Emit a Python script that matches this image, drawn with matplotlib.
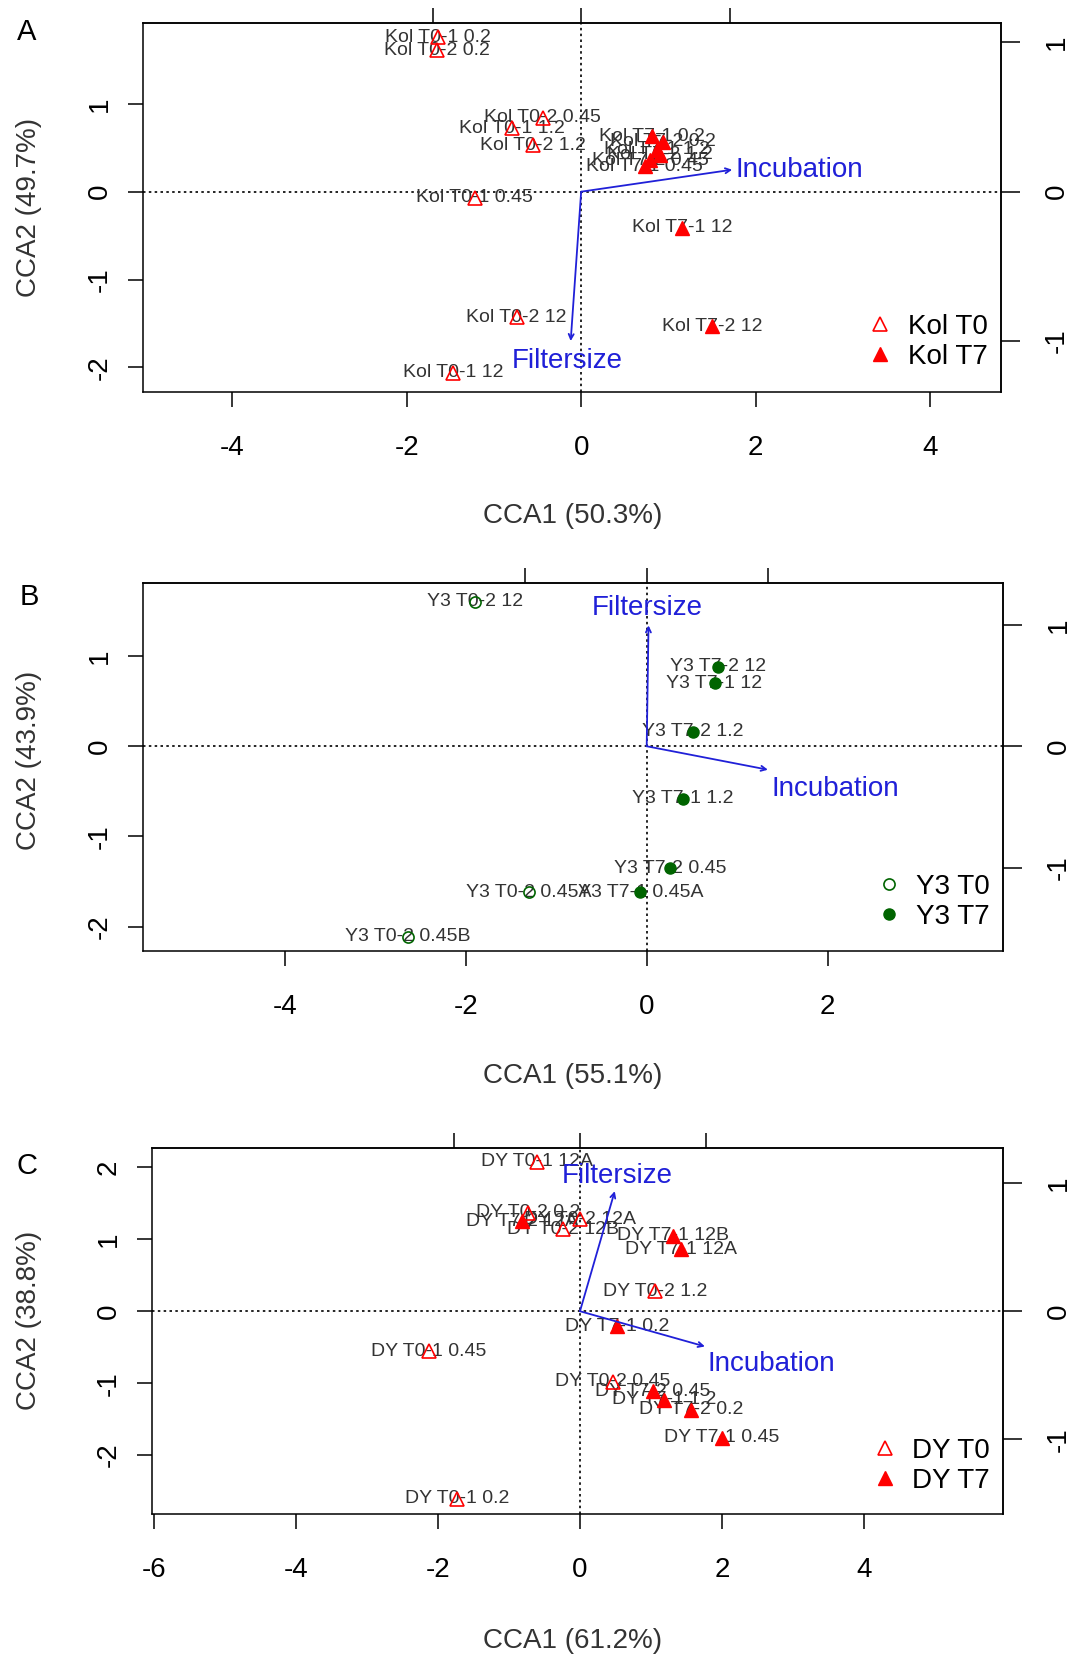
import matplotlib
matplotlib.use('Agg')
import matplotlib.pyplot as plt
from matplotlib.lines import Line2D

plt.rcParams['font.family'] = ['Liberation Sans', 'DejaVu Sans']

# ---- Panel A : Kol ----
kol_t0_labels = ['Kol T0-1 0.2', 'Kol T0-2 0.2', 'Kol T0-2 0.45', 'Kol T0-1 1.2',
                 'Kol T0-2 1.2', 'Kol T0-1 0.45', 'Kol T0-2 12', 'Kol T0-1 12']
kol_t0_x = [-1.64, -1.65, -0.44, -0.79, -0.55, -1.22, -0.74, -1.47]
kol_t0_y = [1.76, 1.61, 0.84, 0.72, 0.53, -0.07, -1.43, -2.06]
kol_t7_labels = ['Kol T7-1 0.2', 'Kol T7-2 0.2', 'Kol T7-1 1.2', 'Kol T7-2 1.2',
                 'Kol T7-2 0.45', 'Kol T7-1 0.45', 'Kol T7-1 12', 'Kol T7-2 12']
kol_t7_x = [0.81, 0.94, 0.87, 0.90, 0.79, 0.73, 1.16, 1.50]
kol_t7_y = [0.63, 0.57, 0.48, 0.42, 0.36, 0.29, -0.41, -1.53]
kol_env = ['Incubation', 'Filtersize']
kol_env_x = [1.73, -0.12]
kol_env_y = [0.25, -1.70]
kol_env_lab_x = [2.50, -0.16]
kol_env_lab_y = [0.25, -1.93]

# ---- Panel B : Y3 ----
y3_t0_labels = ['Y3 T0-2 12', 'Y3 T0-2 0.45A', 'Y3 T0-2 0.45B']
y3_t0_x = [-1.90, -1.30, -2.64]
y3_t0_y = [1.60, -1.62, -2.11]
y3_t7_labels = ['Y3 T7-2 12', 'Y3 T7-1 12', 'Y3 T7-2 1.2', 'Y3 T7-1 1.2',
                'Y3 T7-2 0.45', 'Y3 T7-1 0.45A']
y3_t7_x = [0.79, 0.75, 0.51, 0.40, 0.26, -0.07]
y3_t7_y = [0.88, 0.70, 0.16, -0.58, -1.35, -1.62]
y3_env = ['Filtersize', 'Incubation']
y3_env_x = [0.02, 1.34]
y3_env_y = [1.34, -0.26]
y3_env_lab_x = [0.01, 2.09]
y3_env_lab_y = [1.53, -0.47]

# ---- Panel C : DY ----
dy_t0_labels = ['DY T0-1 12A', 'DY T0-2 0.2', 'DY T0-2 12A', 'DY T0-2 12B',
                'DY T0-2 1.2', 'DY T0-1 0.45', 'DY T0-2 0.45', 'DY T0-1 0.2']
dy_t0_x = [-0.61, -0.73, 0.00, -0.24, 1.06, -2.13, 0.46, -1.73]
dy_t0_y = [2.08, 1.37, 1.28, 1.14, 0.28, -0.56, -0.98, -2.61]
dy_t7_labels = ['DY T7-2 12A', 'DY T7-1 12B', 'DY T7-1 12A', 'DY T7-1 0.2',
                'DY T7-2 0.45', 'DY T7-1 1.2', 'DY T7-2 0.2', 'DY T7-1 0.45']
dy_t7_x = [-0.82, 1.31, 1.43, 0.52, 1.03, 1.19, 1.57, 2.00]
dy_t7_y = [1.25, 1.05, 0.86, -0.21, -1.11, -1.23, -1.37, -1.76]
dy_env = ['Filtersize', 'Incubation']
dy_env_x = [0.49, 1.76]
dy_env_y = [1.67, -0.49]
dy_env_lab_x = [0.52, 2.69]
dy_env_lab_y = [1.88, -0.74]

W, H = 1071, 1663
fig = plt.figure(figsize=(W / 100, H / 100), dpi=100)


def rect(l, t, r, b):
    return [l / W, 1 - b / H, (r - l) / W, (b - t) / H]


def ftext(x, y, s, **kw):
    fig.text(x / W, 1 - y / H, s, ha='center', va='center', **kw)


BLUE = '#2020d8'
TXT = '#333333'


def panel(box, xlim, ylim, xticks, yticks, mul, t0, t7, env, color,
          open_marker, filled_marker, ms, leg_names, leg_anchor):
    ax = fig.add_axes(rect(*box))
    ax.set_xlim(xlim)
    ax.set_ylim(ylim)
    ax.axhline(0, color='black', ls=(0, (1.5, 2)), lw=1.2, zorder=1)
    ax.axvline(0, color='black', ls=(0, (1.5, 2)), lw=1.2, zorder=1)

    # sample labels, then symbols on top
    for labs, xs, ys in (t0, t7):
        for s, x, y in zip(labs, xs, ys):
            ax.text(x, y, s, fontsize=14, color=TXT, ha='center', va='center', zorder=2)
    ax.plot(t0[1], t0[2], ls='none', marker=open_marker, ms=ms, mfc='none',
            mec=color, mew=1.2, zorder=3)
    ax.plot(t7[1], t7[2], ls='none', marker=filled_marker, ms=ms, mfc=color,
            mec=color, zorder=3)

    # biplot arrows
    names, hx, hy, lx, ly = env
    for n, x, y, tx, ty in zip(names, hx, hy, lx, ly):
        ax.annotate('', xy=(x, y), xytext=(0, 0),
                    arrowprops=dict(arrowstyle='->', color=BLUE, lw=1.3,
                                    mutation_scale=9, shrinkA=0, shrinkB=0),
                    zorder=4)
        ax.text(tx, ty, n, fontsize=20, color=BLUE, ha='center', va='center', zorder=4)

    ax.set_xticks(xticks)
    ax.set_yticks(yticks)
    ax.set_xticklabels([str(v) for v in xticks])
    ax.set_yticklabels([str(v) for v in yticks], rotation=90, va='center')
    ax.tick_params(axis='x', length=11, width=1.1, pad=20, labelsize=20)
    ax.tick_params(axis='y', length=11, width=1.1, pad=11, labelsize=20)
    for sp in ax.spines.values():
        sp.set_linewidth(1.1)

    sy = ax.secondary_yaxis('right', functions=(lambda v, m=mul: v / m,
                                                 lambda v, m=mul: v * m))
    sy.set_yticks([-1, 0, 1])
    sy.set_yticklabels(['-1', '0', '1'], rotation=90, va='center')
    sy.tick_params(length=14, width=1.1, pad=17, labelsize=20)
    sy.spines['right'].set_linewidth(1.1)

    sx = ax.secondary_xaxis('top', functions=(lambda v, m=mul: v / m,
                                               lambda v, m=mul: v * m))
    sx.set_xticks([-1, 0, 1])
    sx.set_xticklabels([])
    sx.tick_params(length=11, width=1.1)
    sx.spines['top'].set_linewidth(1.1)

    handles = [Line2D([], [], ls='none', marker=open_marker, ms=ms, mfc='none',
                      mec=color, mew=1.2),
               Line2D([], [], ls='none', marker=filled_marker, ms=ms, mfc=color,
                      mec=color)]
    ax.legend(handles, leg_names, loc='lower right', bbox_to_anchor=leg_anchor,
              frameon=False, fontsize=20, borderpad=0, borderaxespad=0,
              handlelength=1.0, handletextpad=0.5, labelspacing=0.15)
    return ax


panel((143, 23, 1001, 392), (-5.02, 4.81), (-2.28, 1.92), [-4, -2, 0, 2, 4],
      [-2, -1, 0, 1], 1.70,
      (kol_t0_labels, kol_t0_x, kol_t0_y), (kol_t7_labels, kol_t7_x, kol_t7_y),
      (kol_env, kol_env_x, kol_env_y, kol_env_lab_x, kol_env_lab_y),
      'red', '^', '^', 10, ['Kol T0', 'Kol T7'], (0.985, 0.06))

panel((143, 583, 1003, 951), (-5.57, 3.94), (-2.27, 1.81), [-4, -2, 0, 2],
      [-2, -1, 0, 1], 1.345,
      (y3_t0_labels, y3_t0_x, y3_t0_y), (y3_t7_labels, y3_t7_x, y3_t7_y),
      (y3_env, y3_env_x, y3_env_y, y3_env_lab_x, y3_env_lab_y),
      '#006400', 'o', 'o', 8, ['Y3 T0', 'Y3 T7'], (0.985, 0.057))

panel((152, 1148, 1003, 1514), (-6.03, 5.96), (-2.82, 2.27), [-6, -4, -2, 0, 2, 4],
      [-2, -1, 0, 1, 2], 1.78,
      (dy_t0_labels, dy_t0_x, dy_t0_y), (dy_t7_labels, dy_t7_x, dy_t7_y),
      (dy_env, dy_env_x, dy_env_y, dy_env_lab_x, dy_env_lab_y),
      'red', '^', '^', 10, ['DY T0', 'DY T7'], (0.985, 0.055))

ftext(573, 516, 'CCA1 (50.3%)', fontsize=20, color=TXT)
ftext(29, 207, 'CCA2 (49.7%)', fontsize=20, color=TXT, rotation=90)
ftext(573, 1076, 'CCA1 (55.1%)', fontsize=20, color=TXT)
ftext(29, 760, 'CCA2 (43.9%)', fontsize=20, color=TXT, rotation=90)
ftext(573, 1641, 'CCA1 (61.2%)', fontsize=20, color=TXT)
ftext(29, 1320, 'CCA2 (38.8%)', fontsize=20, color=TXT, rotation=90)

ftext(27, 32, 'A', fontsize=21, color='black')
ftext(29, 597, 'B', fontsize=21, color='black')
ftext(27, 1166, 'C', fontsize=21, color='black')

fig.savefig('out.png', dpi=100)
